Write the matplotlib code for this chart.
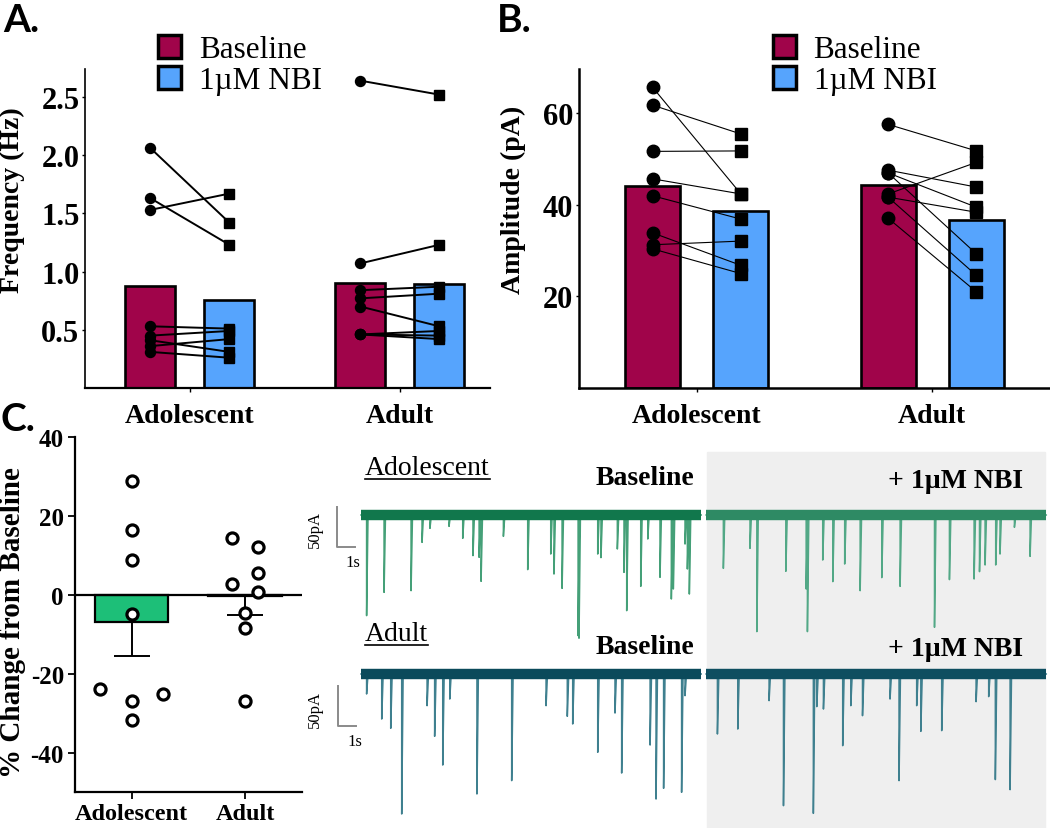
import numpy as np
import matplotlib.pyplot as plt
from matplotlib.patches import Patch, Rectangle
from matplotlib.lines import Line2D

plt.rcParams['font.family'] = ['Liberation Serif', 'DejaVu Serif']

# ================================
# DATA
# ================================
groups = ["Adolescent", "Adult"]

# A. frequency (Hz), paired cells
adol_freq_base = [2.06, 1.63, 1.53, 0.53, 0.45, 0.41, 0.36, 0.31]
adol_freq_nbi = [1.42, 1.23, 1.67, 0.51, 0.49, 0.31, 0.42, 0.26]
adult_freq_base = [2.64, 1.07, 0.84, 0.77, 0.70, 0.46, 0.46, 0.46]
adult_freq_nbi = [2.52, 1.23, 0.87, 0.81, 0.53, 0.49, 0.45, 0.42]
freq_bar_base = [0.88, 0.90]
freq_bar_nbi = [0.757, 0.894]

# B. amplitude (pA), paired cells
adol_amp_base = [65.7, 61.8, 51.7, 45.7, 42.0, 33.9, 31.3, 30.4]
adol_amp_nbi = [42.4, 55.5, 51.8, 42.4, 36.9, 26.8, 32.1, 25.0]
adult_amp_base = [57.6, 47.6, 47.0, 47.0, 42.4, 41.7, 41.7, 37.1]
adult_amp_nbi = [51.8, 43.9, 39.5, 29.3, 49.3, 38.4, 24.6, 21.0]
amp_bar_base = [44.2, 44.4]
amp_bar_nbi = [38.6, 36.7]

# C. % change from baseline
adol_pct = [28.8, 16.6, 8.9, -4.8, -23.8, -26.8, -31.6, -25.1]
adult_pct = [14.4, 12.3, 5.7, 2.8, 0.7, -4.6, -8.4, -26.8]
pct_mean = [-6.9, -0.3]
pct_sem = [8.5, 4.8]

# example traces: event time (s from segment start) and amplitude (pA)
adol_base_t = [0.31, 1.28, 2.78, 3.39, 3.83, 4.89, 5.65, 6.22, 6.56, 6.67, 7.91, 9.26,
               10.54, 10.72, 11.17, 12.06, 12.11, 13.15, 13.33, 14.24, 14.61, 14.76,
               15.54, 15.93, 16.61, 17.24, 17.35, 18.00, 18.13, 18.24]
adol_base_a = [125.8, 96.7, 94.6, 34.2, 16.7, 14.2, 29.2, 50.8, 52.9, 82.9, 26.7, 68.3,
               48.8, 73.8, 91.7, 150.8, 154.0, 48.8, 53.3, 42.5, 71.7, 119.6,
               89.2, 30.0, 77.9, 105.0, 92.5, 36.3, 67.5, 98.8]
adol_nbi_t = [0.96, 2.44, 2.82, 4.43, 5.56, 5.63, 6.48, 7.04, 7.70, 8.56, 9.76, 10.78,
              12.69, 13.52, 14.89, 15.19, 15.50, 16.09, 16.33, 17.13, 18.00]
adol_nbi_a = [66.7, 41.7, 145.8, 70.4, 92.5, 145.8, 56.3, 83.3, 61.3, 94.6, 78.3, 89.2,
              140.4, 80.8, 80.0, 70.8, 62.5, 62.5, 48.8, 15.4, 51.7]
adult_base_t = [0.31, 1.15, 1.65, 2.26, 3.67, 4.09, 4.54, 4.93, 6.44, 8.37, 10.28, 11.46,
                11.76, 13.15, 14.11, 14.48, 16.06, 16.39, 16.81, 17.81, 18.00]
adult_base_a = [25.0, 56.3, 67.9, 175.0, 39.6, 77.9, 113.8, 31.3, 150.0, 133.3, 39.6, 52.9,
                62.5, 97.9, 48.8, 123.8, 88.8, 156.3, 142.9, 147.9, 27.1]
adult_nbi_t = [0.63, 1.76, 3.50, 4.30, 5.96, 6.15, 6.52, 7.59, 8.04, 8.69, 10.22, 10.72,
               11.70, 11.93, 13.09, 15.00, 15.70, 16.07, 16.89]
adult_nbi_a = [75.0, 68.8, 33.3, 164.6, 174.2, 40.8, 43.8, 89.6, 39.6, 52.1, 31.3, 133.3,
               39.6, 71.7, 70.8, 34.6, 28.3, 132.0, 144.6]

# ================================
# STYLE
# ================================
W, H = 1050, 829
maroon = "#a0044a"
blue = "#56a4fd"
cgreen = "#1dbf78"
bold = dict(fontweight="bold")

fig = plt.figure(figsize=(W / 100, H / 100), dpi=100)


def fax(l, t, r, b):
    return fig.add_axes([l / W, 1 - b / H, (r - l) / W, (b - t) / H])


def paired_panel(ax, base, nbi, bar_base, bar_nbi, off, bw, mk, lw_pair):
    for g in range(2):
        ax.bar(g - off, bar_base[g], width=bw, color=maroon, edgecolor="black", linewidth=1.9, zorder=2)
        ax.bar(g + off, bar_nbi[g], width=bw, color=blue, edgecolor="black", linewidth=1.9, zorder=2)
        for yb, yn in zip(base[g], nbi[g]):
            ax.plot([g - off, g + off], [yb, yn], color="black", lw=lw_pair, zorder=3)
        ax.plot([g - off] * len(base[g]), base[g], "o", color="black", ms=mk, zorder=4)
        ax.plot([g + off] * len(nbi[g]), nbi[g], "s", color="black", ms=mk, zorder=4)
    ax.spines[["top", "right"]].set_visible(False)
    ax.set_xticks([0, 1])
    ax.set_xticklabels(groups, fontsize=20, **bold)
    ax.tick_params(axis="y", length=2, width=1, pad=2)
    ax.tick_params(axis="x", length=3, width=1, pad=8)


def place_ylabel(ax, x, y):
    ax.yaxis.set_label_coords(x, y)
    ax.yaxis.label.set_va("center")
    ax.yaxis.label.set_ha("center")


# ================================
# A. FREQUENCY
# ================================
axA = fax(85, 70, 490, 389)
paired_panel(axA, [adol_freq_base, adult_freq_base], [adol_freq_nbi, adult_freq_nbi],
             freq_bar_base, freq_bar_nbi, 0.188, 0.238, 7.2, 1.4)
axA.set_xlim(-0.5, 1.43)
axA.set_ylim(0, 2.74)
axA.set_yticks([0.5, 1.0, 1.5, 2.0, 2.5])
axA.set_yticklabels(["0.5", "1.0", "1.5", "2.0", "2.5"], fontsize=22, **bold)
axA.spines["left"].set_linewidth(1.2)
axA.spines["bottom"].set_linewidth(1.6)
axA.set_ylabel("Frequency (Hz)", fontsize=20, **bold)
place_ylabel(axA, -0.178, 0.592)

# ================================
# B. AMPLITUDE
# ================================
axB = fax(579, 70, 1050, 389)
paired_panel(axB, [adol_amp_base, adult_amp_base], [adol_amp_nbi, adult_amp_nbi],
             amp_bar_base, amp_bar_nbi, 0.1875, 0.234, 9.0, 0.8)
axB.set_xlim(-0.5, 1.5)
axB.set_ylim(0, 69.7)
axB.set_yticks([20, 40, 60])
axB.set_yticklabels(["20", "40", "60"], fontsize=22, **bold)
axB.spines["left"].set_linewidth(1.8)
axB.spines["bottom"].set_linewidth(1.8)
axB.set_ylabel("Amplitude (pA)", fontsize=20, **bold)
place_ylabel(axB, -0.14, 0.592)

leg_handles = [Patch(facecolor=maroon, edgecolor="black", linewidth=2.5, label="Baseline"),
               Patch(facecolor=blue, edgecolor="black", linewidth=2.5, label="1\u00b5M NBI")]
for ax, x0 in [(axA, 158), (axB, 773)]:
    ax.legend(handles=leg_handles, loc="upper left", bbox_to_anchor=(x0 / W, 1 - 36 / H),
              bbox_transform=fig.transFigure, frameon=False, fontsize=22.5,
              handlelength=0.75, handleheight=0.75, handletextpad=0.55,
              labelspacing=0.05, borderpad=0, borderaxespad=0)

# ================================
# C. % CHANGE
# ================================
axC = fax(75, 438.3, 301.7, 793.3)
axC.bar([0, 1], pct_mean, width=0.647, color=cgreen, edgecolor="black", linewidth=1.6, zorder=2)
axC.errorbar([0, 1], pct_mean, yerr=[pct_sem, [0, 0]], fmt="none", ecolor="black",
             elinewidth=1.4, capsize=13, capthick=1.4, zorder=3)
axC.axhline(0, color="black", lw=1.6, zorder=2.5)
adol_off = [0, 0, 0, 0, -0.28, 0, 0, 0.28]
adult_off = [-0.112, 0.117, 0.117, -0.112, 0.117, 0, 0, 0]
axC.plot(np.array(adol_off), adol_pct, "o", mfc="white", mec="black", mew=2.3, ms=8, zorder=5)
axC.plot(1 + np.array(adult_off), adult_pct, "o", mfc="white", mec="black", mew=2.3, ms=8, zorder=5)
axC.set_xlim(-0.5, 1.5)
axC.set_ylim(-50, 40)
axC.set_yticks([-40, -20, 0, 20, 40])
axC.set_yticklabels(["-40", "-20", "0", "20", "40"], fontsize=18, **bold)
axC.set_xticks([0, 1])
axC.set_xticklabels(groups, fontsize=17.5, **bold)
axC.tick_params(axis="both", length=5, width=1.3, pad=3)
axC.spines[["top", "right"]].set_visible(False)
axC.spines[["left", "bottom"]].set_linewidth(1.6)
axC.set_ylabel("% Change from Baseline", fontsize=21, **bold)
place_ylabel(axC, -0.276, 0.48)

# ================================
# TRACES
# ================================
axT = fax(300, 440, 1050, 829)
axT.set_xlim(0, 750 / 18)
axT.set_ylim(-389 * 1.25, 0)
axT.axis("off")
axT.add_patch(Rectangle((22.6, -486.25), 18.8, 486.25 - 16.7, color="#efefef", zorder=0))

seg_len = 18.9
rows = [
    (-95.0, [(3.39, adol_base_t, adol_base_a, "#11774c", "#45a078"),
             (22.56, adol_nbi_t, adol_nbi_a, "#2e8a64", "#52a886")]),
    (-293.75, [(3.39, adult_base_t, adult_base_a, "#0b4a5b", "#3f808f"),
               (22.56, adult_nbi_t, adult_nbi_a, "#0e4e60", "#3f808f")]),
]
for base_y, segs in rows:
    for x0, ts, amps, band_col, spike_col in segs:
        xs, ys = [x0], [base_y]
        for t, a in zip(ts, amps):
            xs += [x0 + t, x0 + t, x0 + t + 0.08]
            ys += [base_y, base_y - a, base_y]
        xs.append(x0 + seg_len)
        ys.append(base_y)
        axT.plot(xs, ys, color=spike_col, lw=1.1, zorder=2)
        axT.plot([x0, x0 + seg_len], [base_y, base_y], color=band_col, lw=7.5,
                 solid_capstyle="butt", zorder=3)

# scale bars (50 pA, 1 s)
for sx, sy in [(2.04, -135.4), (2.09, -359.1)]:
    axT.plot([sx, sx, sx + 1], [sy + 50, sy, sy], color="#8a8a8a", lw=1.4, zorder=3)

fig.text(315 / W, 1 - 530 / H, "50pA", rotation=90, fontsize=12, ha="center", va="center")
fig.text(353 / W, 1 - 563 / H, "1s", fontsize=12, ha="center", va="center")
fig.text(315 / W, 1 - 710 / H, "50pA", rotation=90, fontsize=12, ha="center", va="center")
fig.text(355 / W, 1 - 742 / H, "1s", fontsize=12, ha="center", va="center")

under = []
under.append(fig.text(365 / W, 1 - 475 / H, "Adolescent", fontsize=20, ha="left", va="baseline"))
under.append(fig.text(365 / W, 1 - 641 / H, "Adult", fontsize=20, ha="left", va="baseline"))
fig.text(694 / W, 1 - 479 / H, "Baseline", fontsize=20, ha="right", va="center", **bold)
fig.text(694 / W, 1 - 647 / H, "Baseline", fontsize=20, ha="right", va="center", **bold)
fig.text(1023 / W, 1 - 482 / H, "+ 1\u00b5M NBI", fontsize=20, ha="right", va="center", **bold)
fig.text(1023 / W, 1 - 649 / H, "+ 1\u00b5M NBI", fontsize=20, ha="right", va="center", **bold)

# panel letters
for lx, ly, s in [(3, 20, "A."), (497, 20, "B."), (0, 420, "C.")]:
    fig.text(lx / W, 1 - ly / H, s, fontsize=28, family="Lato", ha="left", va="center", **bold)

# underline the trace group labels
fig.canvas.draw()
r = fig.canvas.get_renderer()
for t in under:
    bb = t.get_window_extent(r)
    yline = bb.y0 + 1
    fig.add_artist(Line2D([bb.x0 / W, bb.x1 / W], [yline / H, yline / H], color="black",
                          lw=1.2, transform=fig.transFigure))

fig.savefig("out.png", dpi=100)
